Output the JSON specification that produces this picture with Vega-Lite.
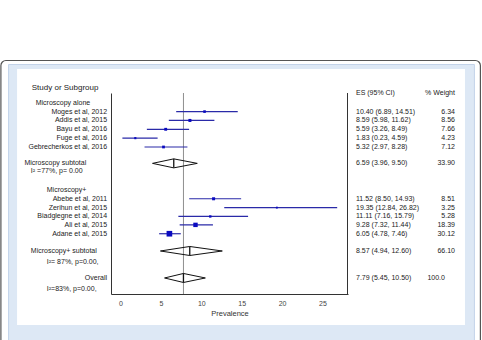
{
  "$schema": "https://vega.github.io/schema/vega-lite/v6.json",
  "width": 237,
  "height": 201,
  "autosize": {"type": "none"},
  "padding": {"left": 111, "top": 93, "right": 134, "bottom": 46},
  "background": "white",
  "config": {
    "view": {"stroke": null},
    "font": "Liberation Sans",
    "text": {"font": "Liberation Sans", "color": "#222", "fontSize": 7, "baseline": "middle"}
  },
  "datasets": {
    "rows": [
      {"label": "Study or Subgroup", "kind": "header", "row": -0.53},
      {"label": "", "kind": "colhead", "row": 0.03, "ci": "ES (95% CI)", "wt": "% Weight"},
      {"label": "Microscopy alone", "kind": "group", "row": 1.1},
      {"label": "Moges et al, 2012", "kind": "study", "row": 2.1, "es": 10.40, "lo": 6.89, "hi": 14.51, "weight": 6.34, "ci": "10.40 (6.89, 14.51)", "wt": "6.34"},
      {"label": "Addis et al, 2015", "kind": "study", "row": 3.1, "es": 8.59, "lo": 5.98, "hi": 11.62, "weight": 8.56, "ci": "8.59 (5.98, 11.62)", "wt": "8.56"},
      {"label": "Bayu et al, 2016", "kind": "study", "row": 4.1, "es": 5.59, "lo": 3.26, "hi": 8.49, "weight": 7.66, "ci": "5.59 (3.26, 8.49)", "wt": "7.66"},
      {"label": "Fuge et al, 2016", "kind": "study", "row": 5.1, "es": 1.83, "lo": 0.23, "hi": 4.59, "weight": 4.23, "ci": "1.83 (0.23, 4.59)", "wt": "4.23"},
      {"label": "Gebrecherkos et al, 2016", "kind": "study", "row": 6.1, "es": 5.32, "lo": 2.97, "hi": 8.28, "weight": 7.12, "ci": "5.32 (2.97, 8.28)", "wt": "7.12"},
      {"label": "Microscopy subtotal", "kind": "pooled", "row": 7.95, "es": 6.59, "lo": 3.96, "hi": 9.50, "weight": 33.90, "ci": "6.59 (3.96, 9.50)", "wt": "33.90"},
      {"label": "I² =77%, p= 0.00", "kind": "het", "row": 8.8},
      {"label": "Microscopy+", "kind": "group", "row": 10.95},
      {"label": "Abebe et al, 2011", "kind": "study", "row": 11.95, "es": 11.52, "lo": 8.50, "hi": 14.93, "weight": 8.51, "ci": "11.52 (8.50, 14.93)", "wt": "8.51"},
      {"label": "Zerihun et al, 2015", "kind": "study", "row": 12.95, "es": 19.35, "lo": 12.84, "hi": 26.82, "weight": 3.25, "ci": "19.35 (12.84, 26.82)", "wt": "3.25"},
      {"label": "Biadglegne et al, 2014", "kind": "study", "row": 13.95, "es": 11.11, "lo": 7.16, "hi": 15.79, "weight": 5.28, "ci": "11.11 (7.16, 15.79)", "wt": "5.28"},
      {"label": "Ali et al, 2015", "kind": "study", "row": 14.9, "es": 9.28, "lo": 7.32, "hi": 11.44, "weight": 18.39, "ci": "9.28 (7.32, 11.44)", "wt": "18.39"},
      {"label": "Adane et al, 2015", "kind": "study", "row": 15.9, "es": 6.05, "lo": 4.78, "hi": 7.46, "weight": 30.12, "ci": "6.05 (4.78, 7.46)", "wt": "30.12"},
      {"label": "Microscopy+ subtotal", "kind": "pooled", "row": 17.85, "es": 8.57, "lo": 4.94, "hi": 12.60, "weight": 66.10, "ci": "8.57 (4.94, 12.60)", "wt": "66.10"},
      {"label": "I²= 87%, p=0.00,", "kind": "het", "row": 19.1},
      {"label": "Overall", "kind": "overall", "row": 20.9, "es": 7.79, "lo": 5.45, "hi": 10.50, "weight": 100.0, "ci": "7.79 (5.45, 10.50)", "wt": "100.0"},
      {"label": "I²=83%, p=0.00,", "kind": "het", "row": 22.2}
    ]
  },
  "data": {"name": "rows"},
  "layer": [
    {
      "data": {"values": [{}]},
      "mark": {"type": "rect", "fill": "white", "stroke": "#555555", "strokeWidth": 1.2, "cornerRadius": 5},
      "encoding": {
        "x": {"datum": -14.81, "type": "quantitative", "scale": {"domain": [-1.18, 28.16], "nice": false, "zero": false}},
        "x2": {"datum": 44.55},
        "y": {"datum": -3.67, "type": "quantitative", "scale": {"domain": [0, 22.71], "reverse": true, "nice": false, "zero": false}},
        "y2": {"datum": 28.6}
      }
    },
    {
      "data": {"values": [{}]},
      "mark": {"type": "rect", "fill": "#dde8f5", "stroke": "#c3d3e9", "strokeWidth": 1},
      "encoding": {
        "x": {"datum": -13.86, "type": "quantitative"},
        "x2": {"datum": 43.81},
        "y": {"datum": -3.22, "type": "quantitative"},
        "y2": {"datum": 28.6}
      }
    },
    {
      "data": {"values": [{}]},
      "mark": {"type": "rect", "fill": "white"},
      "encoding": {
        "x": {"datum": -12.81, "type": "quantitative"},
        "x2": {"datum": 42.64},
        "y": {"datum": -2.71, "type": "quantitative"},
        "y2": {"datum": 26.21}
      }
    },
    {
      "data": {"values": [{}]},
      "mark": {"type": "rule", "color": "#8f8f8f", "strokeWidth": 1},
      "encoding": {
        "x": {"datum": 7.79, "type": "quantitative"},
        "y": {"datum": 0, "type": "quantitative"},
        "y2": {"datum": 22.71}
      }
    },
    {
      "data": {"values": [{}]},
      "mark": {"type": "rule", "color": "#333333", "strokeWidth": 1},
      "encoding": {
        "x": {"datum": 28.1, "type": "quantitative"},
        "y": {"datum": 0, "type": "quantitative"},
        "y2": {"datum": 22.71}
      }
    },
    {
      "transform": [{"filter": {"field": "kind", "equal": "study"}}],
      "mark": {"type": "rule", "color": "#2a2aa8", "strokeWidth": 1.2},
      "encoding": {
        "x": {
          "field": "lo", "type": "quantitative", "title": "Prevalence",
          "axis": {
            "values": [0, 5, 10, 15, 20, 25], "ticks": false, "tickSize": 0, "grid": false,
            "domainColor": "#333333", "domainWidth": 1, "labelFontSize": 7, "labelColor": "#444444",
            "labelPadding": 5, "titleFontSize": 7.5, "titleFontWeight": "normal", "titleColor": "#333333",
            "titlePadding": 3, "zindex": 1
          }
        },
        "x2": {"field": "hi"},
        "y": {
          "field": "row", "type": "quantitative", "title": null,
          "axis": {"labels": false, "ticks": false, "grid": false, "domainColor": "#333333", "zindex": 1}
        }
      }
    },
    {
      "transform": [{"filter": {"field": "kind", "equal": "study"}}],
      "mark": {"type": "square", "color": "#0a0ac0", "opacity": 1},
      "encoding": {
        "x": {"field": "es", "type": "quantitative", "title": "Prevalence"},
        "y": {"field": "row", "type": "quantitative", "title": null},
        "size": {"field": "weight", "type": "quantitative", "scale": {"type": "linear", "domain": [0, 30.12], "range": [0, 32]}, "legend": null}
      }
    },
    {
      "transform": [{"filter": {"field": "kind", "oneOf": ["pooled", "overall"]}}],
      "mark": {"type": "rule", "color": "#111111", "strokeWidth": 1, "y2Offset": -4.5},
      "encoding": {
        "x": {"field": "lo", "type": "quantitative", "title": "Prevalence"},
        "x2": {"field": "es"},
        "y": {"field": "row", "type": "quantitative", "title": null},
        "y2": {"field": "row"}
      }
    },
    {
      "transform": [{"filter": {"field": "kind", "oneOf": ["pooled", "overall"]}}],
      "mark": {"type": "rule", "color": "#111111", "strokeWidth": 1, "yOffset": -4.5},
      "encoding": {
        "x": {"field": "es", "type": "quantitative", "title": "Prevalence"},
        "x2": {"field": "hi"},
        "y": {"field": "row", "type": "quantitative", "title": null},
        "y2": {"field": "row"}
      }
    },
    {
      "transform": [{"filter": {"field": "kind", "oneOf": ["pooled", "overall"]}}],
      "mark": {"type": "rule", "color": "#111111", "strokeWidth": 1, "y2Offset": 4.5},
      "encoding": {
        "x": {"field": "hi", "type": "quantitative", "title": "Prevalence"},
        "x2": {"field": "es"},
        "y": {"field": "row", "type": "quantitative", "title": null},
        "y2": {"field": "row"}
      }
    },
    {
      "transform": [{"filter": {"field": "kind", "oneOf": ["pooled", "overall"]}}],
      "mark": {"type": "rule", "color": "#111111", "strokeWidth": 1, "yOffset": 4.5},
      "encoding": {
        "x": {"field": "es", "type": "quantitative", "title": "Prevalence"},
        "x2": {"field": "lo"},
        "y": {"field": "row", "type": "quantitative", "title": null},
        "y2": {"field": "row"}
      }
    },
    {
      "transform": [{"filter": {"field": "kind", "oneOf": ["pooled", "overall"]}}],
      "mark": {"type": "rule", "color": "#111111", "strokeWidth": 1.3, "yOffset": -4.5, "y2Offset": 4.5},
      "encoding": {
        "x": {"field": "es", "type": "quantitative", "title": "Prevalence"},
        "y": {"field": "row", "type": "quantitative", "title": null},
        "y2": {"field": "row"}
      }
    },
    {
      "transform": [{"filter": {"field": "kind", "equal": "header"}}],
      "mark": {"type": "text", "align": "left", "fontSize": 8},
      "encoding": {
        "x": {"datum": -10.99, "type": "quantitative"},
        "y": {"field": "row", "type": "quantitative", "title": null},
        "text": {"field": "label"}
      }
    },
    {
      "transform": [{"filter": {"field": "label", "oneOf": ["I² =77%, p= 0.00", "Microscopy+ subtotal"]}}],
      "mark": {"type": "text", "align": "left"},
      "encoding": {
        "x": {"datum": -11.1, "type": "quantitative"},
        "y": {"field": "row", "type": "quantitative", "title": null},
        "text": {"field": "label"}
      }
    },
    {
      "transform": [{"filter": {"field": "label", "equal": "Microscopy subtotal"}}],
      "mark": {"type": "text", "align": "left"},
      "encoding": {
        "x": {"datum": -11.9, "type": "quantitative"},
        "y": {"field": "row", "type": "quantitative", "title": null},
        "text": {"field": "label"}
      }
    },
    {
      "transform": [{"filter": {"field": "label", "equal": "Microscopy alone"}}],
      "mark": {"type": "text", "align": "left"},
      "encoding": {
        "x": {"datum": -10.5, "type": "quantitative"},
        "y": {"field": "row", "type": "quantitative", "title": null},
        "text": {"field": "label"}
      }
    },
    {
      "transform": [{"filter": {"field": "label", "oneOf": ["Microscopy+", "I²= 87%, p=0.00,", "I²=83%, p=0.00,"]}}],
      "mark": {"type": "text", "align": "left"},
      "encoding": {
        "x": {"datum": -9.13, "type": "quantitative"},
        "y": {"field": "row", "type": "quantitative", "title": null},
        "text": {"field": "label"}
      }
    },
    {
      "transform": [{"filter": {"field": "kind", "oneOf": ["study", "overall"]}}],
      "mark": {"type": "text", "align": "right"},
      "encoding": {
        "x": {"datum": -1.67, "type": "quantitative"},
        "y": {"field": "row", "type": "quantitative", "title": null},
        "text": {"field": "label"}
      }
    },
    {
      "transform": [{"filter": "isValid(datum.ci)"}],
      "mark": {"type": "text", "align": "left"},
      "encoding": {
        "x": {"datum": 29.15, "type": "quantitative"},
        "y": {"field": "row", "type": "quantitative", "title": null},
        "text": {"field": "ci"}
      }
    },
    {
      "transform": [{"filter": "isValid(datum.wt) && datum.kind != 'overall'"}],
      "mark": {"type": "text", "align": "right"},
      "encoding": {
        "x": {"datum": 41.4, "type": "quantitative"},
        "y": {"field": "row", "type": "quantitative", "title": null},
        "text": {"field": "wt"}
      }
    },
    {
      "transform": [{"filter": {"field": "kind", "equal": "overall"}}],
      "mark": {"type": "text", "align": "right"},
      "encoding": {
        "x": {"datum": 40.16, "type": "quantitative"},
        "y": {"field": "row", "type": "quantitative", "title": null},
        "text": {"field": "wt"}
      }
    }
  ]
}
